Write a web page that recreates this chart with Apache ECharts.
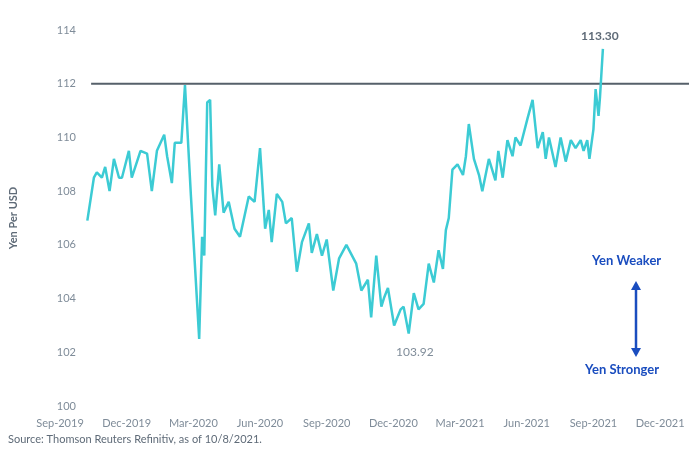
<!DOCTYPE html>
<html><head><meta charset="utf-8">
<script src="https://cdn.jsdelivr.net/npm/echarts@6/dist/echarts.min.js"></script>
<style>html,body{margin:0;padding:0;background:#fff}#c{width:700px;height:472px}</style>
</head><body><div id="c"></div>
<script>
const tickLabels = ['Sep-2019','Dec-2019','Mar-2020','Jun-2020','Sep-2020','Dec-2020','Mar-2021','Jun-2021','Sep-2021','Dec-2021'];
const dates = ['2019-10-08','2019-10-17','2019-10-21','2019-10-28','2019-11-02','2019-11-08','2019-11-14','2019-11-21','2019-11-25','2019-12-04','2019-12-08','2019-12-20','2019-12-29',
'2020-01-05','2020-01-12','2020-01-22','2020-01-26','2020-02-02','2020-02-06','2020-02-15','2020-02-20','2020-02-28','2020-03-09','2020-03-13','2020-03-16','2020-03-20','2020-03-24','2020-03-27','2020-03-31',
'2020-04-06','2020-04-12','2020-04-19','2020-04-27','2020-05-04','2020-05-16','2020-05-24','2020-06-01','2020-06-08','2020-06-13','2020-06-17','2020-06-24','2020-07-01','2020-07-06','2020-07-14','2020-07-21','2020-07-28',
'2020-08-07','2020-08-11','2020-08-18','2020-08-25','2020-09-01','2020-09-10','2020-09-18','2020-09-28','2020-10-11','2020-10-18','2020-10-27','2020-11-01','2020-11-08','2020-11-15','2020-11-19','2020-11-24',
'2020-12-02','2020-12-11','2020-12-15','2020-12-22','2020-12-29','2021-01-05','2021-01-12','2021-01-19','2021-01-26','2021-02-02','2021-02-08','2021-02-12','2021-02-16','2021-02-21','2021-02-28',
'2021-03-05','2021-03-09','2021-03-13','2021-03-20','2021-03-27','2021-04-01','2021-04-10','2021-04-19','2021-04-23','2021-04-29','2021-05-05','2021-05-12','2021-05-16','2021-05-23',
'2021-06-02','2021-06-09','2021-06-16','2021-06-23','2021-06-27','2021-07-01','2021-07-10','2021-07-17','2021-07-24','2021-07-31','2021-08-07','2021-08-14','2021-08-18','2021-08-23','2021-08-26',
'2021-09-01','2021-09-04','2021-09-08','2021-09-10','2021-09-14'];
const yenPerUsd = [106.9,108.5,108.7,108.5,108.9,108.0,109.2,108.5,108.5,109.5,108.5,109.5,109.4,
108.0,109.5,110.1,109.3,108.3,109.8,109.8,111.95,107.9,102.5,106.3,105.6,111.3,111.4,108.2,107.1,
109.0,107.2,107.6,106.6,106.3,107.8,107.6,109.6,106.6,107.3,106.1,107.9,107.6,106.8,107.0,105.0,106.1,
106.8,105.7,106.4,105.6,106.2,104.3,105.5,106.0,105.3,104.3,104.7,103.3,105.6,103.7,104.05,104.4,
103.0,103.6,103.7,102.7,104.2,103.6,103.8,105.3,104.6,105.8,105.1,106.55,107.0,108.8,109.0,
108.6,109.3,110.5,109.2,108.6,108.0,109.2,108.4,109.5,108.5,109.9,109.3,110.0,109.7,
110.7,111.4,109.6,110.2,109.2,110.0,108.9,110.0,109.1,109.9,109.6,109.9,109.5,109.9,109.2,
110.3,111.8,110.8,111.5,113.3];
const refLevel = 112;

function monthIndex(s){const [y,m,d]=s.split('-').map(Number);return (y-2019)*12+(m-9)+(d-1)/30.5;}
const seriesData = dates.map((d,i)=>[monthIndex(d), yenPerUsd[i]]);

const chart = echarts.init(document.getElementById('c'));
const font = 'Lato, "Open Sans", sans-serif';
chart.setOption({
  animation:false,
  grid:{left:57,right:11,top:30,bottom:66,containLabel:false},
  xAxis:{type:'value',min:0,max:28.3,interval:3,
    axisLine:{show:false},axisTick:{show:false},splitLine:{show:false},
    axisLabel:{color:'#7f8c99',fontSize:11,fontFamily:font,margin:12,showMaxLabel:false,
      formatter:v=>tickLabels[Math.round(v/3)]||''}},
  yAxis:{type:'value',min:100,max:114,interval:2,
    name:'Yen Per USD',nameLocation:'middle',nameGap:41,nameRotate:90,
    nameTextStyle:{color:'#5f6b78',fontSize:11,fontWeight:'bold',fontFamily:font},
    axisLine:{show:false},axisTick:{show:false},splitLine:{show:false},
    axisLabel:{color:'#7f8c99',fontSize:11,fontFamily:font,margin:-16,align:'right'}},
  series:[
    {type:'line',data:[[1.4,refLevel],[28.3,refLevel]],symbol:'none',lineStyle:{color:'#56606a',width:2},z:1},
    {type:'line',data:seriesData,symbol:'none',lineStyle:{color:'#3ccbd4',width:2.5},z:2}
  ],
  graphic:[
    {type:'text',left:581,top:30,style:{text:'113.30',fill:'#5f6b78',font:'bold 12px '+font}},
    {type:'text',left:396,top:346,style:{text:'103.92',fill:'#7f8c99',font:'12px '+font}},
    {type:'text',left:592,top:254,style:{text:'Yen Weaker',fill:'#1a4dbf',font:'bold 13px '+font}},
    {type:'text',left:585,top:363,style:{text:'Yen Stronger',fill:'#1a4dbf',font:'bold 13px '+font}},
    {type:'line',shape:{x1:636,y1:288,x2:636,y2:350},style:{stroke:'#1a4dbf',lineWidth:2.5}},
    {type:'polygon',shape:{points:[[631,290],[641,290],[636,281]]},style:{fill:'#1a4dbf'}},
    {type:'polygon',shape:{points:[[631,348],[641,348],[636,357]]},style:{fill:'#1a4dbf'}},
    {type:'text',left:8,top:434,style:{text:'Source: Thomson Reuters Refinitiv, as of 10/8/2021.',fill:'#5f6b78',font:'11px '+font}}
  ]
});
</script></body></html>
